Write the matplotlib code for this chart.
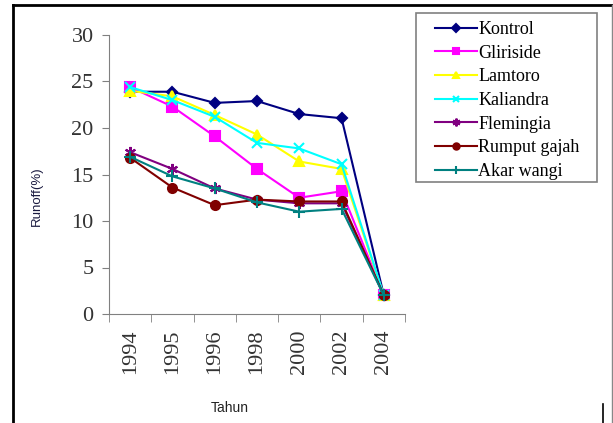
import matplotlib
matplotlib.use("Agg")
import matplotlib.pyplot as plt
from matplotlib.lines import Line2D
from matplotlib.patches import Rectangle

years = ["1994", "1995", "1996", "1998", "2000", "2002", "2004"]
kontrol = [23.9, 23.9, 22.7, 22.9, 21.5, 21.05, 2.0]
gliriside = [24.4, 22.3, 19.1, 15.6, 12.5, 13.2, 2.0]
lamtoro = [24.0, 23.4, 21.4, 19.3, 16.4, 15.6, 2.0]
kaliandra = [24.4, 23.0, 21.2, 18.4, 17.8, 16.1, 2.0]
flemingia = [17.4, 15.6, 13.5, 12.3, 11.9, 11.9, 2.0]
rumput_gajah = [16.8, 13.6, 11.7, 12.3, 12.1, 12.1, 2.0]
akar_wangi = [16.9, 14.8, 13.5, 12.0, 11.0, 11.3, 2.0]

series = [
    ("Kontrol", kontrol, "#000080", "D", 5.5),
    ("Gliriside", gliriside, "#FF00FF", "s", 6.5),
    ("Lamtoro", lamtoro, "#FFFF00", "^", 6.5),
    ("Kaliandra", kaliandra, "#00FFFF", "x", 7),
    ("Flemingia", flemingia, "#800080", (6, 2, 0), 8),
    ("Rumput gajah", rumput_gajah, "#800000", "o", 6.5),
    ("Akar wangi", akar_wangi, "#008080", "+", 9),
]

fig = plt.figure(figsize=(6.13, 4.23), dpi=100)
ax = fig.add_axes([109/613, 1-314/423, (405-109)/613, (314-35)/423])

x = list(range(len(years)))
for name, vals, col, mk, ms in series:
    ax.plot(x, vals, color=col, marker=mk, markersize=ms, linewidth=1.5,
            markeredgewidth=1.5, label=name, zorder=3)

ax.set_xlim(-0.5, len(years) - 0.5)
ax.set_ylim(0, 30)
ax.set_yticks([0, 5, 10, 15, 20, 25, 30])
ax.set_xticks(x)
ax.set_xticklabels(years, rotation=90, family="Liberation Serif", fontsize=16, color="#333333")
ax.tick_params(axis="x", length=0, pad=11)
ax.set_xticks([i - 0.5 for i in range(len(years) + 1)], minor=True)
ax.tick_params(axis="x", which="minor", length=6, direction="out", color="#808080")
for lbl in ax.get_yticklabels():
    lbl.set_family("Liberation Serif")
    lbl.set_fontsize(16)
    lbl.set_color("#333333")
ax.tick_params(axis="y", length=5, color="#808080", pad=6)
for s in ["top", "right"]:
    ax.spines[s].set_visible(False)
for s in ["left", "bottom"]:
    ax.spines[s].set_color("#808080")

fig.text(37/613, 1-196/423, "Runoff(%)", rotation=90, ha="center", va="center",
         family="Liberation Sans", fontsize=9.5, color="#1a1a40")
fig.text(230/613, 1-408/423, "Tahun", ha="center", va="center",
         family="Liberation Sans", fontsize=10, color="#222222")

leg = fig.legend(loc="upper left",
                 bbox_to_anchor=(435/613, 1-21/423),
                 bbox_transform=fig.transFigure,
                 prop={"family": "Liberation Serif", "size": 13},
                 frameon=False,
                 handlelength=2.3, labelspacing=0.37, borderpad=0, handletextpad=0.1,
                 borderaxespad=0, markerscale=0.7)

fig.add_artist(Rectangle((416/613, 1-182/423), 181/613, 169/423,
                         transform=fig.transFigure, fill=False,
                         edgecolor="#808080", linewidth=1.2))

# outer frame
fig.add_artist(Line2D([13/613, 13/613], [0, 1-5/423], transform=fig.transFigure,
                      color="black", linewidth=2))
fig.add_artist(Line2D([13/613, 1], [1-5/423, 1-5/423], transform=fig.transFigure,
                      color="black", linewidth=2))
fig.add_artist(Line2D([611.5/613, 611.5/613], [0, 1-5/423], transform=fig.transFigure,
                      color="#888888", linewidth=1))
fig.add_artist(Line2D([603/613, 603/613], [0, 1-404/423], transform=fig.transFigure,
                      color="black", linewidth=1.2))

fig.savefig("out.png", dpi=100)
